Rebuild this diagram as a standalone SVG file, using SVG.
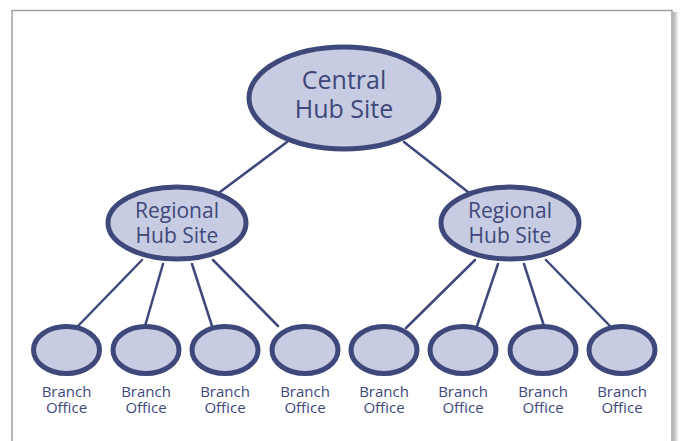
<svg xmlns="http://www.w3.org/2000/svg" width="681" height="441" viewBox="0 0 681 441">
<defs>
<linearGradient id="shadow" x1="0" y1="0" x2="1" y2="0">
<stop offset="0" stop-color="#b0b0b0"/>
<stop offset="1" stop-color="#ffffff"/>
</linearGradient>
<style>
.node{fill:#c7cce2;stroke:#3e487a;stroke-width:5}
.conn line{stroke:#3e487a;stroke-width:2.5;stroke-linecap:round}
.big{font-family:"Open Sans","Noto Sans",sans-serif;fill:#3e487a;text-anchor:middle}
.lbl{font-family:"Open Sans","Noto Sans",sans-serif;fill:#3e487a;text-anchor:middle;font-size:15px}
</style>
</defs>
<rect x="0" y="0" width="681" height="441" fill="#ffffff"/>
<rect x="673" y="12" width="6" height="429" fill="url(#shadow)"/>
<path d="M12 441 V10.5 H672 V441" fill="none" stroke="#a0a0a0" stroke-width="1.5"/>
<g id="connectors" class="conn">
<line x1="287" y1="142" x2="220" y2="192"/>
<line x1="404" y1="142" x2="468" y2="192"/>
<line x1="142" y1="260" x2="78" y2="326"/>
<line x1="163" y1="264" x2="145" y2="326"/>
<line x1="192" y1="264" x2="212" y2="326"/>
<line x1="213" y1="260" x2="278" y2="326"/>
<line x1="475" y1="260" x2="406" y2="328"/>
<line x1="498" y1="264" x2="477" y2="326"/>
<line x1="524" y1="264" x2="544" y2="326"/>
<line x1="546" y1="260" x2="610" y2="326"/>
</g>
<g id="central">
<ellipse class="node" cx="344" cy="98" rx="95" ry="51"/>
<text class="big" font-size="25" x="344" y="89">Central</text>
<text class="big" font-size="25" x="344" y="118">Hub Site</text>
</g>
<g id="regional-left">
<ellipse class="node" cx="177" cy="223" rx="69" ry="36"/>
<text class="big" font-size="21" x="177" y="218">Regional</text>
<text class="big" font-size="21" x="177" y="243">Hub Site</text>
</g>
<g id="regional-right">
<ellipse class="node" cx="510" cy="223" rx="69" ry="36"/>
<text class="big" font-size="21" x="510" y="218">Regional</text>
<text class="big" font-size="21" x="510" y="243">Hub Site</text>
</g>
<g id="branch1"><ellipse class="node" cx="66.5" cy="350" rx="33" ry="23.5"/><text class="lbl" x="66.5" y="397">Branch</text><text class="lbl" x="66.5" y="413">Office</text></g>
<g id="branch2"><ellipse class="node" cx="146" cy="350" rx="33" ry="23.5"/><text class="lbl" x="146" y="397">Branch</text><text class="lbl" x="146" y="413">Office</text></g>
<g id="branch3"><ellipse class="node" cx="225" cy="350" rx="33" ry="23.5"/><text class="lbl" x="225" y="397">Branch</text><text class="lbl" x="225" y="413">Office</text></g>
<g id="branch4"><ellipse class="node" cx="305" cy="350" rx="33" ry="23.5"/><text class="lbl" x="305" y="397">Branch</text><text class="lbl" x="305" y="413">Office</text></g>
<g id="branch5"><ellipse class="node" cx="384" cy="350" rx="33" ry="23.5"/><text class="lbl" x="384" y="397">Branch</text><text class="lbl" x="384" y="413">Office</text></g>
<g id="branch6"><ellipse class="node" cx="463" cy="350" rx="33" ry="23.5"/><text class="lbl" x="463" y="397">Branch</text><text class="lbl" x="463" y="413">Office</text></g>
<g id="branch7"><ellipse class="node" cx="543" cy="350" rx="33" ry="23.5"/><text class="lbl" x="543" y="397">Branch</text><text class="lbl" x="543" y="413">Office</text></g>
<g id="branch8"><ellipse class="node" cx="622" cy="350" rx="33" ry="23.5"/><text class="lbl" x="622" y="397">Branch</text><text class="lbl" x="622" y="413">Office</text></g>
</svg>
